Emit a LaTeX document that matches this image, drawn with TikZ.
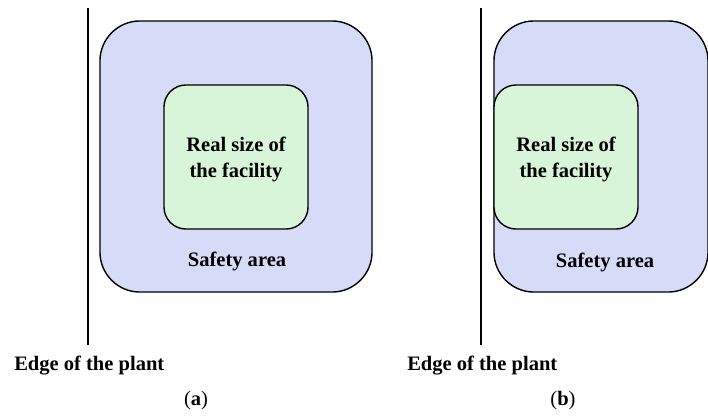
\documentclass[tikz,border=0pt]{standalone}
\usepackage{fontspec}
\setmainfont{Liberation Serif}
\usepackage{tikz}
\usetikzlibrary{positioning}

\definecolor{safetyblue}{RGB}{214,220,248}
\definecolor{facilitygreen}{RGB}{217,245,217}

\begin{document}
\begin{tikzpicture}[x=0.025cm, y=-0.025cm,
    safetybox/.style={draw, line width=1pt, fill=safetyblue, rounded corners=1cm,
        minimum width=6.8cm, minimum height=6.775cm},
    facilitybox/.style={draw, line width=1pt, fill=facilitygreen, rounded corners=0.55cm,
        minimum width=3.6cm, minimum height=3.6cm},
    label/.style={font=\fontsize{14.6}{18}\selectfont\bfseries, inner sep=0pt, align=center},
    edgeline/.style={line width=1pt}]
\useasboundingbox (0,0) rectangle (708,417);

% (a) facility kept inside its safety area
\coordinate (topA) at (88,8);
\coordinate (botA) at (88,345);
\draw[edgeline] (topA) -- (botA);
\node[safetybox] (safeA) at (236,156.5) {};
\node[facilitybox] (facA) at (236,157) {};
\node[label] (facLabelA) at (236,159.5) {Real size of\\the facility};
\node[label] (safeLabelA) at (237,261) {Safety area};
\node[label, anchor=west] (edgeLabelA) at (14,366) {Edge of the plant};
\node[inner sep=0pt, font=\fontsize{14.6}{18}\selectfont] (capA) at (196,401) {(\textbf{a})};

% (b) facility touching the edge of the safety area
\coordinate (topB) at (481,8);
\coordinate (botB) at (481,345);
\draw[edgeline] (topB) -- (botB);
\node[safetybox, minimum width=5.35cm] (safeB) at (601,156.5) {};
\node[facilitybox] (facB) at (566,157) {};
\node[label] (facLabelB) at (566,159.5) {Real size of\\the facility};
\node[label] (safeLabelB) at (605,262) {Safety area};
\node[label, anchor=west] (edgeLabelB) at (407,366) {Edge of the plant};
\node[inner sep=0pt, font=\fontsize{14.6}{18}\selectfont] (capB) at (563,401) {(\textbf{b})};
\end{tikzpicture}
\end{document}
